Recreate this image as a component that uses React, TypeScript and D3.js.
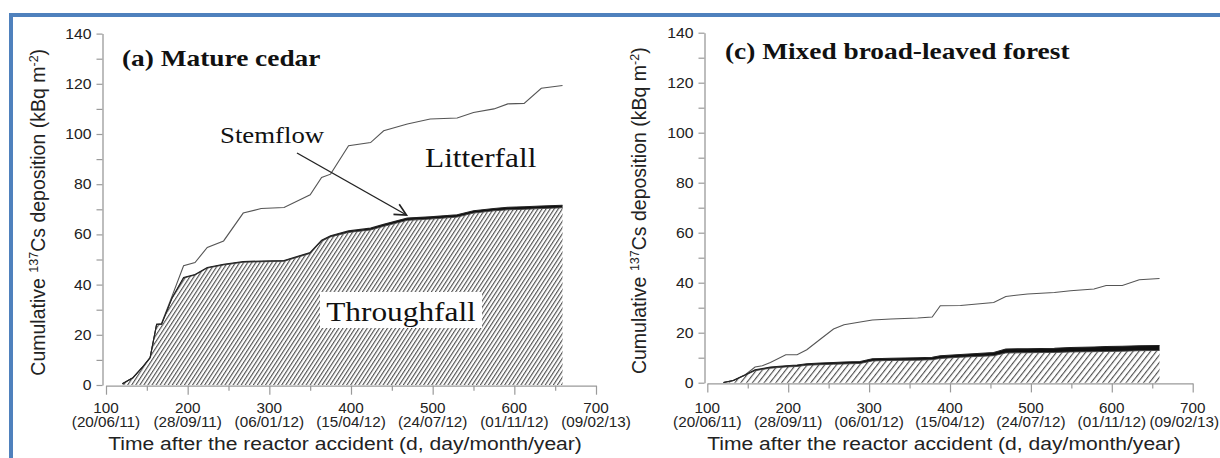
import React, { useEffect, useRef } from "react";
import * as d3 from "d3";

// ---------- data ----------
const xTickValues = [100, 200, 300, 400, 500, 600, 700];
const xTickDates = ["(20/06/11)", "(28/09/11)", "(06/01/12)", "(15/04/12)", "(24/07/12)", "(01/11/12)", "(09/02/13)"];
const xMinorTicks = [150, 250, 350, 450, 550, 650];
const yTickValues = [0, 20, 40, 60, 80, 100, 120, 140];
const yMinorTicks = [10, 30, 50, 70, 90, 110, 130];

// (a) Mature cedar
const cedarDays = [120, 133, 146, 154, 162, 168, 181, 195, 209, 224, 244, 268, 290, 318, 350, 364, 375, 397, 424, 440, 469, 497, 530, 550, 575, 592, 612, 633, 659];
const cedarThroughfall = [0.5, 2.9, 7.6, 10.9, 24.1, 24.1, 34.7, 42.6, 43.8, 46.6, 47.8, 48.9, 49.1, 49.3, 52.4, 57.3, 59.0, 60.8, 61.8, 63.2, 65.6, 66.1, 66.9, 68.5, 69.4, 69.8, 70.0, 70.3, 70.6];
const cedarStemflowTop = [0.5, 2.9, 7.6, 10.9, 24.2, 24.2, 34.8, 42.8, 44.0, 46.8, 48.1, 49.2, 49.4, 49.6, 52.8, 57.7, 59.5, 61.4, 62.5, 64.0, 66.5, 67.0, 67.8, 69.4, 70.3, 70.8, 71.0, 71.3, 71.6];
const cedarLitterTop = [0.5, 2.9, 7.6, 10.9, 24.2, 24.5, 35.5, 47.5, 48.8, 54.8, 57.4, 68.5, 70.3, 70.7, 75.8, 82.7, 84.0, 95.3, 96.6, 101.3, 104.0, 106.0, 106.4, 108.6, 110.0, 112.0, 112.2, 118.2, 119.3];

// (c) Mixed broad-leaved forest
const broadDays = [120, 132, 147, 159, 168, 178, 197, 211, 223, 240, 256, 269, 289, 304, 327, 360, 378, 388, 413, 454, 469, 496, 529, 549, 578, 593, 613, 634, 659];
const broadThroughfall = [0.1, 0.8, 3.0, 4.8, 5.3, 5.8, 6.3, 6.5, 7.0, 7.2, 7.4, 7.5, 7.7, 8.7, 8.9, 9.0, 9.2, 9.7, 10.2, 10.8, 11.9, 12.0, 12.1, 12.3, 12.4, 12.5, 12.6, 12.8, 12.9];
const broadStemflowTop = [0.1, 0.9, 3.2, 5.2, 5.7, 6.3, 6.8, 7.1, 7.6, 7.9, 8.1, 8.3, 8.5, 9.6, 9.8, 10.0, 10.2, 10.8, 11.3, 12.1, 13.5, 13.6, 13.8, 14.1, 14.3, 14.5, 14.6, 14.8, 14.9];
const broadLitterTop = [0.1, 0.9, 3.2, 6.3, 6.8, 8.1, 11.2, 11.2, 13.2, 17.5, 21.5, 23.2, 24.3, 25.1, 25.5, 25.9, 26.3, 30.8, 30.9, 32.1, 34.5, 35.5, 36.1, 36.8, 37.5, 38.9, 38.9, 41.2, 41.7];

const SX = 1.14; // horizontal stretch of the original picture's text
const SXT = 1.09; // stretch of tick labels
const RIGHT_LIMIT = 1219;

type PanelProps = {
  title: string;
  days: number[];
  tf: number[];
  ts: number[];
  total: number[];
  xr: [number, number];
  yr: [number, number];
  yAxisX: number;
  titlePos: [number, number];
  yLabelX: number;
  xLabelX: number;
  hatchId: string;
  children?: React.ReactNode;
};

function Panel(p: PanelProps) {
  const x = d3.scaleLinear().domain([100, 700]).range(p.xr);
  const y = d3.scaleLinear().domain([0, 140]).range(p.yr);
  const xAxRef = useRef<SVGGElement>(null);
  const xMinRef = useRef<SVGGElement>(null);
  const yAxRef = useRef<SVGGElement>(null);
  const yMinRef = useRef<SVGGElement>(null);
  const axisColor = "#9a9a9a";

  useEffect(() => {
    const style = (g: any) => {
      g.selectAll("path").attr("stroke", axisColor).attr("stroke-width", 1.3);
      g.selectAll("line").attr("stroke", axisColor).attr("stroke-width", 1.2);
      g.selectAll("text").remove();
    };
    d3.select(xAxRef.current!).call(
      d3.axisBottom(x).tickValues(xTickValues).tickSize(9).tickSizeOuter(0).tickFormat(() => "") as any
    ).call(style);
    d3.select(xMinRef.current!).call(
      d3.axisBottom(x).tickValues(xMinorTicks).tickSize(5).tickSizeOuter(0).tickFormat(() => "") as any
    ).call(style);
    d3.select(xMinRef.current!).select("path").remove();
    d3.select(yAxRef.current!).call(
      d3.axisLeft(y).tickValues(yTickValues).tickSize(6).tickSizeOuter(0).tickFormat(() => "") as any
    ).call(style);
    d3.select(yMinRef.current!).call(
      d3.axisLeft(y).tickValues(yMinorTicks).tickSize(6).tickSizeOuter(0).tickFormat(() => "") as any
    ).call(style);
    d3.select(yMinRef.current!).select("path").remove();
  }, []);

  const idx = p.days.map((_, i) => i);
  const tfArea = d3.area<number>().x((i) => x(p.days[i])).y0(y(0)).y1((i) => y(p.tf[i]));
  const bandArea = d3.area<number>().x((i) => x(p.days[i])).y0((i) => y(p.tf[i])).y1((i) => y(p.ts[i]));
  const tsLine = d3.line<number>().x((i) => x(p.days[i])).y((i) => y(p.ts[i]));
  const tfLine = d3.line<number>().x((i) => x(p.days[i])).y((i) => y(p.tf[i]));
  const totLine = d3.line<number>().x((i) => x(p.days[i])).y((i) => y(p.total[i]));

  const yMid = (p.yr[0] + p.yr[1]) / 2;
  const stretched = (tx: number, ty: number, s: number = SX) => `translate(${tx},${ty}) scale(${s},1)`;
  const dateHalf = 35;

  return (
    <g>
      <path d={tfArea(idx)!} fill={`url(#${p.hatchId})`} stroke="none" />
      <path d={bandArea(idx)!} fill="#111" stroke="none" />
      <path d={totLine(idx)!} fill="none" stroke="#555" strokeWidth={1.1} />
      <path d={tfLine(idx)!} fill="none" stroke="#444" strokeWidth={0.9} />
      <path d={tsLine(idx)!} fill="none" stroke="#222" strokeWidth={1.1} />

      <g ref={xAxRef} transform={`translate(0,${y(0) + 0.7})`} />
      <g ref={xMinRef} transform={`translate(0,${y(0) + 0.7})`} />
      <g ref={yAxRef} transform={`translate(${p.yAxisX},0)`} />
      <g ref={yMinRef} transform={`translate(${p.yAxisX},0)`} />

      <g fontFamily="Liberation Sans, Arial, sans-serif" fill="#222">
        {yTickValues.map((v) => (
          <text key={v} transform={stretched(p.yAxisX - 11, y(v) + 5, SXT)} textAnchor="end" fontSize={14.5}>
            {v}
          </text>
        ))}
        {xTickValues.map((v, i) => {
          const overflow = x(v) + dateHalf > RIGHT_LIMIT;
          return (
            <g key={v}>
              <text transform={stretched(x(v), 413, SXT)} textAnchor="middle" fontSize={14}>
                {v}
              </text>
              <text
                transform={stretched(overflow ? RIGHT_LIMIT : x(v), 427, SXT)}
                textAnchor={overflow ? "end" : "middle"}
                fontSize={14}
              >
                {xTickDates[i]}
              </text>
            </g>
          );
        })}
        <text transform={stretched(p.xLabelX, 450)} textAnchor="middle" fontSize={18.5}>
          Time after the reactor accident (d, day/month/year)
        </text>
        <text transform={`translate(${p.yLabelX + 7},${yMid + 3}) rotate(-90)`} textAnchor="middle" fontSize={19.5}>
          Cumulative <tspan fontSize={12.5} dy={-7}>137</tspan>
          <tspan dy={7}>Cs deposition (kBq m</tspan>
          <tspan fontSize={12.5} dy={-7}>-2</tspan>
          <tspan dy={7}>)</tspan>
        </text>
      </g>
      <text
        transform={stretched(p.titlePos[0], p.titlePos[1])}
        fontFamily="Liberation Serif, Times New Roman, serif"
        fontWeight="bold"
        fontSize={24}
        fill="#111"
      >
        {p.title}
      </text>
      {p.children}
    </g>
  );
}

export default function App() {
  const serif = "Liberation Serif, Times New Roman, serif";
  return (
    <svg width={1220} height={458} style={{ position: "absolute", left: 0, top: 0, background: "#fff" }}>
      <defs>
        <pattern id="hatchA" width={3.4} height={6} patternUnits="userSpaceOnUse" patternTransform="rotate(33)">
          <rect width={3.4} height={6} fill="#fff" />
          <line x1={0.6} y1={0} x2={0.6} y2={6} stroke="#3a3a3a" strokeWidth={1} />
        </pattern>
        <pattern id="hatchC" width={4.6} height={6} patternUnits="userSpaceOnUse" patternTransform="rotate(38)">
          <rect width={4.6} height={6} fill="#fff" />
          <line x1={0.6} y1={0} x2={0.6} y2={6} stroke="#3a3a3a" strokeWidth={1} />
        </pattern>
        <marker id="arrowHead" viewBox="0 0 12 12" refX={11} refY={6} markerWidth={14} markerHeight={14} markerUnits="userSpaceOnUse" orient="auto">
          <path d="M1,1 L11,6 L1,11" fill="none" stroke="#222" strokeWidth={1.4} />
        </marker>
      </defs>
      <rect x={0} y={0} width={1220} height={458} fill="#fff" />
      {/* blue frame */}
      <line x1={9} y1={15} x2={1220} y2={15} stroke="#4f81bd" strokeWidth={4} />
      <line x1={11} y1={13} x2={11} y2={458} stroke="#4f81bd" strokeWidth={4} />

      <Panel
        title="(a) Mature cedar"
        days={cedarDays}
        tf={cedarThroughfall}
        ts={cedarStemflowTop}
        total={cedarLitterTop}
        xr={[106, 596]}
        yr={[385, 33.6]}
        yAxisX={102.5}
        titlePos={[122, 66]}
        yLabelX={38}
        xLabelX={345}
        hatchId="hatchA"
      >
        <g fontFamily={serif} fill="#111">
          <text transform={`translate(220,142.5) scale(${SX},1)`} fontSize={23.5}>Stemflow</text>
          <text transform={`translate(425,167) scale(${SX},1)`} fontSize={27.5}>Litterfall</text>
          <rect x={320} y={292} width={162} height={36} fill="#fff" />
          <text transform={`translate(401,320.5) scale(${SX},1)`} textAnchor="middle" fontSize={27.5}>Throughfall</text>
        </g>
        <line x1={297} y1={153} x2={406.5} y2={215} stroke="#222" strokeWidth={1.4} markerEnd="url(#arrowHead)" />
      </Panel>

      <Panel
        title="(c) Mixed broad-leaved forest"
        days={broadDays}
        tf={broadThroughfall}
        ts={broadStemflowTop}
        total={broadLitterTop}
        xr={[707.3, 1192.7]}
        yr={[382.7, 32.7]}
        yAxisX={704.5}
        titlePos={[725, 59]}
        yLabelX={639}
        xLabelX={944}
        hatchId="hatchC"
      />
    </svg>
  );
}
